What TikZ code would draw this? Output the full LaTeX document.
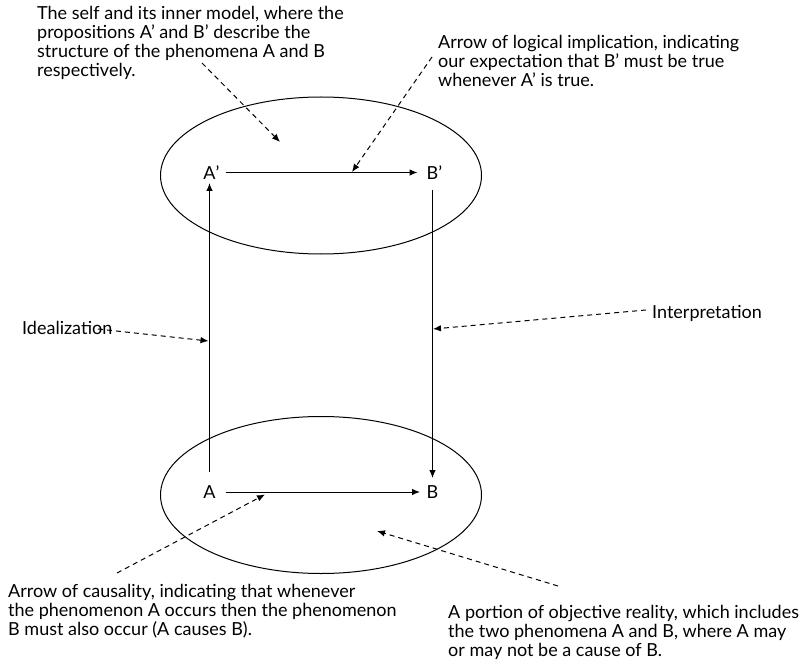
\documentclass[tikz,border=0pt]{standalone}
\usepackage{fontspec}
\setmainfont{Lato}
\usetikzlibrary{arrows.meta,shapes.geometric}
\begin{document}
\begin{tikzpicture}[x=1pt,y=-1pt,
  every node/.style={inner sep=0pt,font=\fontsize{18}{19}\selectfont},
  lbl/.style={anchor=center},
  txt/.style={align=left},
  region/.style={draw,ellipse,line width=1pt,minimum width=321pt,minimum height=157pt},
  solidarrow/.style={line width=1pt,-{Latex[length=8pt,width=6.5pt]}},
  dasharrow/.style={line width=1pt,dash pattern=on 5pt off 4pt,-{Latex[length=8pt,width=6.5pt]}}]
\useasboundingbox (0,0) rectangle (802,660);
% regions
\node[region] (top) at (321,175.5) {};
\node[region] (bot) at (321,495) {};
% propositions and phenomena
\node[lbl] (Ap) at (209.5,172.5) {A\rlap{’}};
\node[lbl] (Bp) at (432.5,172.5) {B\rlap{’}};
\node[lbl] (A) at (209.5,492) {A};
\node[lbl] (B) at (432.5,492) {B};
% solid arrows
\draw[solidarrow,shorten <=16pt,shorten >=15pt] (Ap.center) -- (Bp.center);
\draw[solidarrow,shorten <=16pt,shorten >=12.5pt] (A.center) -- (B.center);
\draw[solidarrow,shorten <=20pt,shorten >=10.5pt] (A.center) -- (Ap.center);
\draw[solidarrow,shorten <=17.5pt,shorten >=14pt] (Bp.center) -- (B.center);
% texts
\node[txt,anchor=north west] (tself) at (37,6) {The self and its inner model, where the\\propositions A’ and B’ describe the\\structure of the phenomena A and B\\respectively.};
\node[txt,anchor=north west] (timpl) at (438,35) {Arrow of logical implication, indicating\\our expectation that B’ must be true\\whenever A’ is true.};
\node[txt,anchor=west] (tideal) at (22,328) {Idealization};
\node[txt,anchor=west] (tinterp) at (652,313.5) {Interpretation};
\node[txt,anchor=north west] (tcaus) at (8,584) {Arrow of causality, indicating that whenever\\the phenomenon A occurs then the phenomenon\\B must also occur (A causes B).};
\node[txt,anchor=north west] (treal) at (448,605) {A portion of objective reality, which includes\\the two phenomena A and B, where A may\\or may not be a cause of B.};
% dashed pointer coordinates
\coordinate (s1) at (202,63);   \coordinate (e1) at (280,142);
\coordinate (s2) at (432,57);   \coordinate (e2) at (352,172);
\coordinate (s3) at (98,329);   \coordinate (e3) at (208.5,341);
\coordinate (s4) at (646,310);  \coordinate (e4) at (433,329);
\coordinate (s5) at (117,573);  \coordinate (e5) at (265,494.5);
\coordinate (s6) at (558,586);  \coordinate (e6) at (377,531);
\draw[dasharrow] (s1) -- (e1);
\draw[dasharrow] (s2) -- (e2);
\draw[dasharrow] (s3) -- (e3);
\draw[dasharrow] (s4) -- (e4);
\draw[dasharrow] (s5) -- (e5);
\draw[dasharrow] (s6) -- (e6);
\end{tikzpicture}
\end{document}
